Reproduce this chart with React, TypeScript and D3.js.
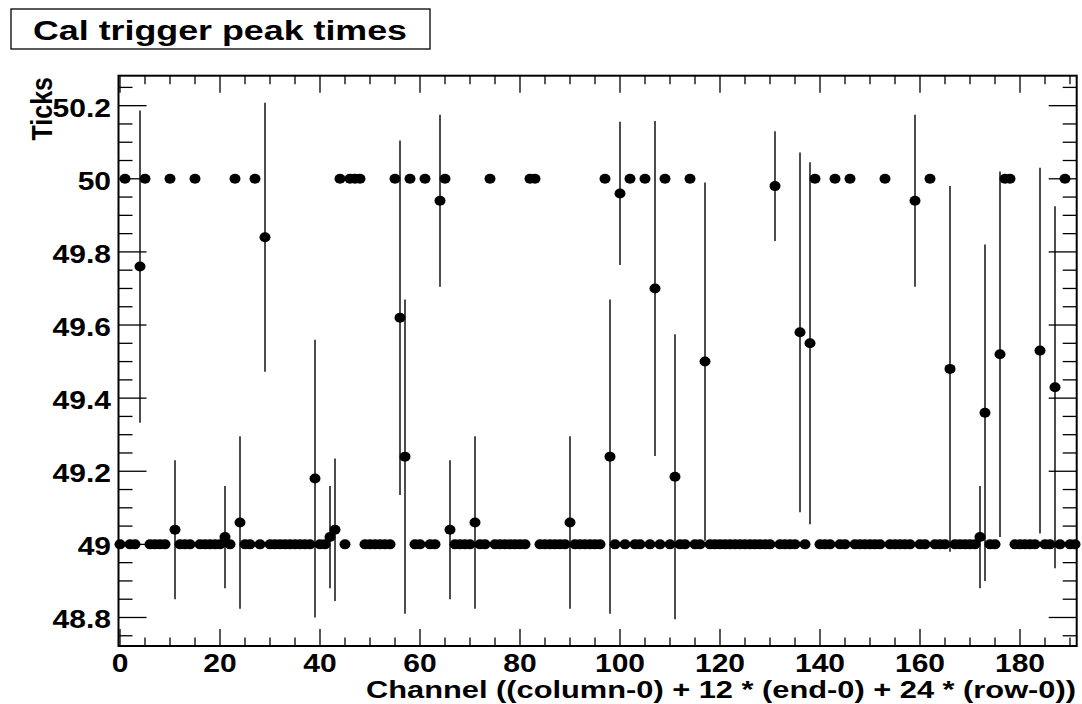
import React, { useRef, useEffect } from 'react';
import * as d3 from 'd3';

// channels sitting on the 49 tick line
const lowChannels = [
  0, 2, 3, 6, 7, 8, 9, 12, 13, 14, 16, 17, 18, 19, 20, 22, 25, 26, 28, 30, 31, 32, 33, 34, 35, 36, 37, 38,
  40, 41, 45, 49, 50, 51, 52, 53, 54, 59, 60, 62, 63, 67, 68, 69, 70, 72, 73, 75, 76, 77, 78, 79, 80, 81,
  84, 85, 86, 87, 88, 89, 91, 92, 93, 94, 95, 96, 99, 101, 103, 104, 106, 108, 110, 112, 113, 115, 116,
  118, 119, 120, 121, 122, 123, 124, 125, 126, 127, 128, 129, 130, 132, 133, 134, 135, 137, 140, 141, 142,
  144, 145, 147, 148, 149, 150, 151, 152, 154, 155, 156, 157, 158, 160, 161, 163, 164, 165, 167, 168, 169,
  170, 171, 174, 175, 179, 180, 181, 182, 183, 185, 186, 188, 190, 191,
];
const lowValue = 49;

// channels sitting on the 50 tick line
const highChannels = [
  1, 5, 10, 15, 23, 27, 44, 46, 47, 48, 55, 58, 61, 65, 74, 82, 83, 97, 102, 105, 109, 114, 139, 143,
  146, 153, 162, 177, 178, 189,
];
const highValue = 50;

// channels with an in-between mean and an error bar
const midChannels = [
  4, 11, 21, 24, 29, 39, 42, 43, 56, 57, 64, 66, 71, 90, 98, 100, 107, 111, 117, 131, 136, 138, 159, 166,
  172, 173, 176, 184, 187,
];
const midValues = [
  49.76, 49.04, 49.02, 49.06, 49.84, 49.18, 49.02, 49.04, 49.62, 49.24, 49.94, 49.04, 49.06, 49.06, 49.24,
  49.96, 49.7, 49.185, 49.5, 49.98, 49.58, 49.55, 49.94, 49.48, 49.02, 49.36, 49.52, 49.53, 49.43,
];
const midErrors = [
  0.427, 0.19, 0.14, 0.236, 0.368, 0.38, 0.14, 0.195, 0.485, 0.43, 0.235, 0.19, 0.236, 0.236, 0.43, 0.196,
  0.458, 0.39, 0.49, 0.15, 0.492, 0.495, 0.235, 0.5, 0.14, 0.46, 0.5, 0.5, 0.495,
];

const xMajorTicks = [0, 20, 40, 60, 80, 100, 120, 140, 160, 180];
const yMajorTicks = [48.8, 49, 49.2, 49.4, 49.6, 49.8, 50, 50.2];
const yTickLabels = ['48.8', '49', '49.2', '49.4', '49.6', '49.8', '50', '50.2'];

const title = 'Cal trigger peak times';
const xTitle = 'Channel ((column-0) + 12 * (end-0) + 24 * (row-0))';
const yTitle = 'Ticks';

const W = 1082;
const H = 704;
const FONT = "'Liberation Sans', Arial, Helvetica, sans-serif";
const SX = 1.2; // the picture's glyphs are wider than tall

const App = () => {
  const svgRef = useRef<SVGSVGElement>(null);

  useEffect(() => {
    const svg = d3.select(svgRef.current);
    svg.selectAll('*').remove();

    const left = 118.5, right = 1076.7, top = 75.7, bottom = 646;
    const x = d3.scaleLinear().domain([-0.3, 191.34]).range([left, right]);
    const y = d3.scaleLinear().domain([48.722, 50.282]).range([bottom, top]);

    const points = [
      ...lowChannels.map((c) => ({ ch: c, v: lowValue, e: 0 })),
      ...highChannels.map((c) => ({ ch: c, v: highValue, e: 0 })),
      ...midChannels.map((c, i) => ({ ch: c, v: midValues[i], e: midErrors[i] })),
    ];

    // title box
    svg.append('rect')
      .attr('x', 11).attr('y', 9).attr('width', 419).attr('height', 40)
      .attr('fill', 'white').attr('stroke', 'black').attr('stroke-width', 1.3);
    svg.append('text')
      .attr('x', 33).attr('y', 40)
      .attr('font-family', FONT).attr('font-weight', 'bold').attr('font-size', 27)
      .attr('textLength', 374).attr('lengthAdjust', 'spacingAndGlyphs')
      .text(title);

    // error bars
    svg.append('g')
      .selectAll('line')
      .data(points.filter((d) => d.e > 0))
      .join('line')
      .attr('x1', (d) => x(d.ch)).attr('x2', (d) => x(d.ch))
      .attr('y1', (d) => y(d.v - d.e)).attr('y2', (d) => y(d.v + d.e))
      .attr('stroke', 'black').attr('stroke-width', 1.4);

    // ticks
    const minorX = d3.range(0, 192, 5).filter((v) => v % 20 !== 0);
    const minorY = d3.range(48.75, 50.26, 0.05).map((v) => +v.toFixed(2))
      .filter((v) => !yMajorTicks.some((m) => Math.abs(m - v) < 1e-6));
    const tg = svg.append('g').attr('stroke', 'black').attr('stroke-width', 1.3);
    const xt = [
      ...xMajorTicks.map((v) => ({ v, len: 17 })),
      ...minorX.map((v) => ({ v, len: 8.5 })),
    ];
    tg.selectAll('.xb').data(xt).join('line').attr('class', 'xb')
      .attr('x1', (d) => x(d.v)).attr('x2', (d) => x(d.v))
      .attr('y1', bottom).attr('y2', (d) => bottom - d.len);
    tg.selectAll('.xt').data(xt).join('line').attr('class', 'xt')
      .attr('x1', (d) => x(d.v)).attr('x2', (d) => x(d.v))
      .attr('y1', top).attr('y2', (d) => top + d.len);
    const yt = [
      ...yMajorTicks.map((v) => ({ v, len: 28 })),
      ...minorY.map((v) => ({ v, len: 14 })),
    ];
    tg.selectAll('.yl').data(yt).join('line').attr('class', 'yl')
      .attr('x1', left).attr('x2', (d) => left + d.len)
      .attr('y1', (d) => y(d.v)).attr('y2', (d) => y(d.v));
    tg.selectAll('.yr').data(yt).join('line').attr('class', 'yr')
      .attr('x1', right).attr('x2', (d) => right - d.len)
      .attr('y1', (d) => y(d.v)).attr('y2', (d) => y(d.v));

    // frame
    svg.append('rect')
      .attr('x', left).attr('y', top).attr('width', right - left).attr('height', bottom - top)
      .attr('fill', 'none').attr('stroke', 'black').attr('stroke-width', 2);

    // markers
    svg.append('g')
      .selectAll('ellipse')
      .data(points)
      .join('ellipse')
      .attr('cx', (d) => x(d.ch)).attr('cy', (d) => y(d.v))
      .attr('rx', 5.5).attr('ry', 5)
      .attr('fill', 'black');

    // tick labels
    svg.append('g')
      .selectAll('text')
      .data(xMajorTicks)
      .join('text')
      .attr('transform', (d) => `translate(${x(d)},672) scale(${SX},1)`)
      .attr('text-anchor', 'middle')
      .attr('font-family', FONT).attr('font-weight', 'bold').attr('font-size', 25)
      .text((d) => String(d));
    svg.append('g')
      .selectAll('text')
      .data(yMajorTicks)
      .join('text')
      .attr('transform', (d) => `translate(111,${y(d) + 11}) scale(${SX},1)`)
      .attr('text-anchor', 'end')
      .attr('font-family', FONT).attr('font-weight', 'bold').attr('font-size', 25)
      .text((d, i) => yTickLabels[i]);

    // axis titles
    svg.append('text')
      .attr('x', 366).attr('y', 697.5)
      .attr('font-family', FONT).attr('font-weight', 'bold').attr('font-size', 23)
      .attr('textLength', 710).attr('lengthAdjust', 'spacingAndGlyphs')
      .text(xTitle);
    svg.append('text')
      .attr('transform', `translate(52,77) scale(${SX},1) rotate(-90)`)
      .attr('text-anchor', 'end')
      .attr('font-family', FONT).attr('font-weight', 'bold').attr('font-size', 25)
      .text(yTitle);
  }, []);

  return (
    <svg
      ref={svgRef}
      width={W}
      height={H}
      style={{ position: 'absolute', left: 0, top: 0, background: 'white' }}
    />
  );
};

export default App;
